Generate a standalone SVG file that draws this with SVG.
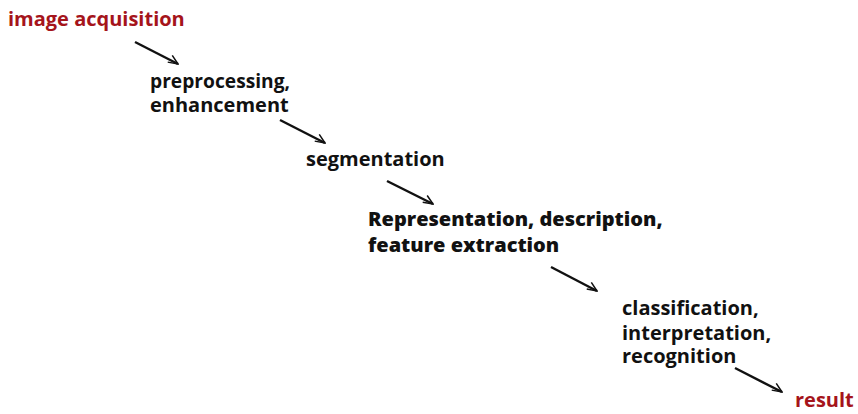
<svg xmlns="http://www.w3.org/2000/svg" width="858" height="414" viewBox="0 0 858 414">
  <defs>
    <style>
      .lbl { font-family: "Open Sans", "Noto Sans", "DejaVu Sans", sans-serif; font-weight: bold; font-size: 20px; fill: #111; }
      .red { fill: #a5141b; }
      .heavy { font-weight: 800; }
      .conn { stroke: #111; stroke-width: 2.4; fill: none; }
    </style>
    <marker id="head" viewBox="0 0 12 12" refX="11" refY="6" markerWidth="12" markerHeight="12" markerUnits="userSpaceOnUse" orient="auto">
      <path d="M2,1 L11,6 L1,9" fill="none" stroke="#111" stroke-width="1.5"/>
    </marker>
  </defs>
  <rect width="858" height="414" fill="#fff"/>

  <g id="connectors">
    <line class="conn" x1="135" y1="42" x2="178" y2="64" marker-end="url(#head)"/>
    <line class="conn" x1="280" y1="120" x2="325" y2="143" marker-end="url(#head)"/>
    <line class="conn" x1="387" y1="181" x2="433" y2="204" marker-end="url(#head)"/>
    <line class="conn" x1="551" y1="267" x2="597" y2="291" marker-end="url(#head)"/>
    <line class="conn" x1="735" y1="368" x2="782" y2="392" marker-end="url(#head)"/>
  </g>

  <g id="acquisition">
    <text class="lbl red" x="8" y="26">image acquisition</text>
  </g>
  <g id="preprocessing">
    <text class="lbl" x="150" y="88" textLength="140" lengthAdjust="spacingAndGlyphs">preprocessing,</text>
    <text class="lbl" x="150" y="112">enhancement</text>
  </g>
  <g id="segmentation">
    <text class="lbl" x="306" y="166">segmentation</text>
  </g>
  <g id="representation">
    <text class="lbl heavy" x="368" y="226">Representation, description,</text>
    <text class="lbl heavy" x="368" y="252">feature extraction</text>
  </g>
  <g id="classification">
    <text class="lbl" x="622" y="315">classification,</text>
    <text class="lbl" x="622" y="340">interpretation,</text>
    <text class="lbl" x="622" y="363">recognition</text>
  </g>
  <g id="result">
    <text class="lbl red" x="795" y="407">result</text>
  </g>
</svg>
